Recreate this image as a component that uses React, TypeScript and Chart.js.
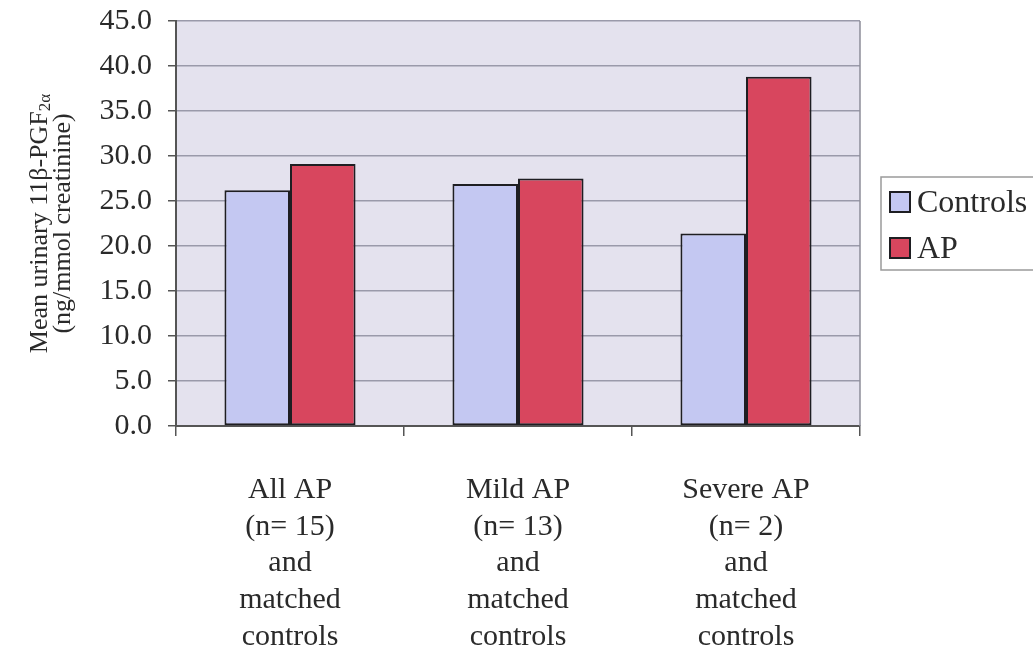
import React, { useEffect, useRef } from "react";
import { Chart, registerables } from "chart.js";

Chart.register(...registerables);

const categories: string[][] = [
  ["All AP", "(n= 15)", "and", "matched", "controls"],
  ["Mild AP", "(n= 13)", "and", "matched", "controls"],
  ["Severe AP", "(n= 2)", "and", "matched", "controls"],
];
const seriesNames = ["Controls", "AP"];
const controlsValues = [26.2, 26.9, 21.4];
const apValues = [29.1, 27.5, 38.8];
const yTitleMain = "Mean urinary 11β-PGF";
const yTitleSub = "2α";
const yTitleLine2 = "(ng/mmol creatinine)";

const FONT = '"Liberation Serif", "Times New Roman", serif';
const controlsColor = "#c4c8f2";
const apColor = "#d8465e";
const edgeColor = "#1e1e22";
const textColor = "#2a2a2a";

const decorPlugin = {
  id: "decor",
  beforeDraw(chart: any) {
    const { ctx, chartArea } = chart;
    ctx.save();
    ctx.fillStyle = "#e4e2ee";
    ctx.fillRect(chartArea.left, chartArea.top, chartArea.right - chartArea.left, chartArea.bottom - chartArea.top);
    ctx.restore();
  },
  afterDraw(chart: any) {
    const { ctx, chartArea } = chart;
    ctx.save();
    // plot area right border
    ctx.strokeStyle = "#8c8c98";
    ctx.lineWidth = 1.5;
    ctx.beginPath();
    ctx.moveTo(chartArea.right, chartArea.top);
    ctx.lineTo(chartArea.right, chartArea.bottom);
    ctx.stroke();

    // y axis title (rotated, with subscript)
    const cy = (chartArea.top + chartArea.bottom) / 2;
    ctx.fillStyle = textColor;
    ctx.textBaseline = "middle";
    ctx.textAlign = "left";
    ctx.translate(40, cy);
    ctx.rotate(-Math.PI / 2);
    ctx.font = `26px ${FONT}`;
    const wMain = ctx.measureText(yTitleMain).width;
    ctx.font = `17px ${FONT}`;
    const wSub = ctx.measureText(yTitleSub).width;
    const start = -(wMain + wSub) / 2;
    ctx.font = `26px ${FONT}`;
    ctx.fillText(yTitleMain, start, 0);
    ctx.font = `17px ${FONT}`;
    ctx.fillText(yTitleSub, start + wMain, 6);
    ctx.font = `26px ${FONT}`;
    ctx.textAlign = "center";
    ctx.fillText(yTitleLine2, 0, 23);
    ctx.restore();

    // legend
    ctx.save();
    const lx = 881, ly = 177, lw = 170, lh = 93;
    ctx.fillStyle = "#ffffff";
    ctx.fillRect(lx, ly, lw, lh);
    ctx.strokeStyle = "#9a9a9a";
    ctx.lineWidth = 1.5;
    ctx.strokeRect(lx, ly, lw, lh);
    const datasets = chart.data.datasets;
    const rowsY = [212, 258];
    datasets.forEach((ds: any, i: number) => {
      const by = rowsY[i];
      ctx.fillStyle = ds.backgroundColor;
      ctx.fillRect(890, by - 20, 20, 20);
      ctx.strokeStyle = edgeColor;
      ctx.lineWidth = 2;
      ctx.strokeRect(890, by - 20, 20, 20);
      ctx.fillStyle = textColor;
      ctx.font = `32px ${FONT}`;
      ctx.textAlign = "left";
      ctx.textBaseline = "alphabetic";
      ctx.fillText(ds.label, 917, by);
    });
    ctx.restore();
  },
};

export default function App() {
  const canvasRef = useRef<HTMLCanvasElement | null>(null);

  useEffect(() => {
    if (!canvasRef.current) return;
    const chart = new Chart(canvasRef.current, {
      type: "bar",
      data: {
        labels: categories,
        datasets: [
          {
            label: seriesNames[0],
            data: controlsValues,
            backgroundColor: controlsColor,
            borderColor: edgeColor,
            borderWidth: 2,
            borderSkipped: false,
            categoryPercentage: 0.575,
            barPercentage: 1.0,
          },
          {
            label: seriesNames[1],
            data: apValues,
            backgroundColor: apColor,
            borderColor: edgeColor,
            borderWidth: 2,
            borderSkipped: false,
            categoryPercentage: 0.575,
            barPercentage: 1.0,
          },
        ],
      },
      options: {
        responsive: false,
        animation: false,
        layout: { padding: { top: 21, right: 173, bottom: 0, left: 0 } },
        plugins: {
          legend: { display: false },
          tooltip: { enabled: false },
          title: { display: false },
        },
        scales: {
          x: {
            grid: {
              offset: true,
              drawOnChartArea: false,
              drawTicks: true,
              tickLength: 10,
              tickColor: "#555",
              lineWidth: 1.5,
            },
            border: { color: "#555", width: 2 },
            ticks: {
              color: textColor,
              padding: 36,
              maxRotation: 0,
              autoSkip: false,
              font: { family: FONT, size: 30, lineHeight: 1.22 },
            },
            afterFit(scale: any) {
              scale.height = 233;
            },
          },
          y: {
            min: 0,
            max: 45,
            ticks: {
              stepSize: 5,
              color: textColor,
              padding: 16,
              font: { family: FONT, size: 30 },
              callback: (v: any) => Number(v).toFixed(1),
            },
            grid: {
              color: "#9a9aaa",
              lineWidth: 1.5,
              tickLength: 8,
              tickColor: "#555",
            },
            border: { color: "#555", width: 2 },
            afterFit(scale: any) {
              scale.width = 176;
              scale.paddingTop = 0;
              scale.paddingBottom = 0;
            },
          },
        },
      },
      plugins: [decorPlugin],
    });
    return () => chart.destroy();
  }, []);

  return (
    <div style={{ position: "absolute", left: 0, top: 0, width: 1033, height: 659, background: "#fff" }}>
      <canvas ref={canvasRef} width={1033} height={659} style={{ display: "block" }} />
    </div>
  );
}
